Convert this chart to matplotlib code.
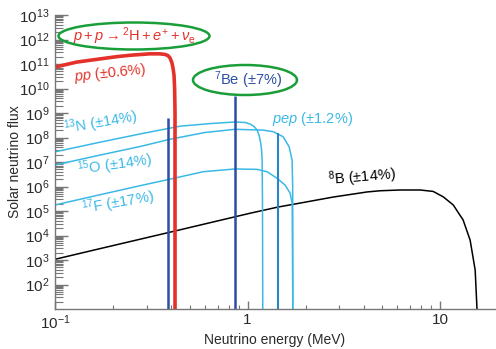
import numpy as np
import matplotlib
matplotlib.use('Agg')
import matplotlib.pyplot as plt
from matplotlib.patches import Ellipse
from matplotlib.ticker import LogLocator, NullFormatter, FixedLocator, FixedFormatter

plt.rcParams['font.family'] = ['Liberation Sans', 'DejaVu Sans']
plt.rcParams['mathtext.fontset'] = 'custom'
plt.rcParams['mathtext.rm'] = 'Liberation Sans'
plt.rcParams['mathtext.it'] = 'Liberation Sans:italic'
plt.rcParams['mathtext.default'] = 'regular'

# Spectra (energy in MeV, flux)
pp_e = [0.10, 0.13, 0.17, 0.21, 0.25, 0.31, 0.35, 0.373, 0.386, 0.396, 0.405, 0.410,
        0.415, 0.418, 0.42, 0.42]
pp_f = [7.5e10, 1.2e11, 1.6e11, 2.0e11, 2.3e11, 2.6e11, 2.6e11, 2.45e11, 2.2e11, 1.75e11,
        1.1e11, 6.9e10, 3.5e10, 1e10, 1e9, 1]

n13_e = [0.10, 0.171, 0.277, 0.446, 0.639, 0.86, 0.97, 1.03, 1.081, 1.121, 1.147, 1.168,
         1.182, 1.19, 1.195, 1.20]
n13_f = [2.6e7, 6.4e7, 1.4e8, 2.9e8, 3.7e8, 4.3e8, 4.1e8, 3.56e8, 2.8e8, 2.0e8, 1.26e8,
         6.5e7, 3.1e7, 1.2e7, 2.8e5, 1]

o15_e = [0.10, 0.171, 0.277, 0.396, 0.601, 0.86, 1.204, 1.357, 1.529, 1.643, 1.703, 1.715, 1.72]
o15_f = [7.55e6, 1.91e7, 4.3e7, 8.5e7, 1.6e8, 2.16e8, 2.0e8, 1.73e8, 1.08e8, 4.2e7, 1.2e7,
         1e6, 1]

f17_e = [0.10, 0.171, 0.277, 0.396, 0.587, 0.86, 1.121, 1.263, 1.423, 1.566, 1.663, 1.705, 1.72]
f17_f = [1.76e5, 4.6e5, 1.08e6, 2.0e6, 4.0e6, 5.2e6, 5.0e6, 4.0e6, 2.16e6, 1.15e6, 5.3e5,
         2.06e5, 1]

b8_e = [0.10, 0.171, 0.382, 1.03, 1.44, 1.87, 2.78, 4.18, 4.88, 6.19, 7.87, 9.2, 10.37,
        11.7, 13.16, 14.31, 15.2, 15.75]
b8_f = [1.07e3, 2.9e3, 1.28e4, 8.1e4, 1.45e5, 2.1e5, 3.7e5, 6.0e5, 6.7e5, 7.2e5, 7.2e5,
        6.3e5, 3.8e5, 1.76e5, 4.3e4, 6.5e3, 391, 1]

# Lines
be7_e = [0.384, 0.862]
be7_f = [6.3e8, 4.9e9]
pep_e = [1.442]
pep_f = [1.5e8]

red = '#e4322b'
cyan = '#3bb9e6'
dblue = '#2c4fa2'
pblue = '#2a85c8'
green = '#1a9e3a'
txt = '#2a2a2a'

fig = plt.figure(figsize=(4.96, 3.49), dpi=100)
ax = fig.add_axes([55 / 496, 40 / 349, 441 / 496, 294 / 349])

ax.plot(b8_e, b8_f, color='black', lw=1.1)
ax.plot(n13_e, n13_f, color=cyan, lw=1.1)
ax.plot(o15_e, o15_f, color=cyan, lw=1.1)
ax.plot(f17_e, f17_f, color=cyan, lw=1.1)
ax.vlines(be7_e, 1, be7_f, color=dblue, lw=1.8)
ax.vlines(pep_e, 1, pep_f, color=pblue, lw=1.5)
ax.plot(pp_e, pp_f, color=red, lw=2.6, solid_joinstyle='round')

ax.set_xscale('log')
ax.set_yscale('log')
ax.set_xlim(0.1, 19.5)
ax.set_ylim(10, 1e13)

for s in ['top', 'right']:
    ax.spines[s].set_visible(False)
for s in ['left', 'bottom']:
    ax.spines[s].set_color('#777777')
    ax.spines[s].set_linewidth(1.0)

ax.xaxis.set_major_locator(FixedLocator([0.1, 1, 10]))
ax.xaxis.set_major_formatter(FixedFormatter([r'$10^{-1}$', '1', '10']))
ax.xaxis.set_minor_locator(LogLocator(base=10, subs=np.arange(2, 10)))
ax.xaxis.set_minor_formatter(NullFormatter())

yt = [10.0 ** k for k in range(2, 14)]
ax.yaxis.set_major_locator(FixedLocator(yt))
ax.yaxis.set_major_formatter(FixedFormatter([r'$10^{%d}$' % k for k in range(2, 14)]))
ax.yaxis.set_minor_locator(LogLocator(base=10, subs=np.arange(2, 10), numticks=30))
ax.yaxis.set_minor_formatter(NullFormatter())

ax.tick_params(which='both', direction='in', colors='#777777', labelcolor=txt, labelsize=11)
ax.tick_params(axis='y', which='major', length=9.5, width=1.0, pad=4)
ax.tick_params(axis='y', which='minor', length=5.5, width=0.8)
ax.tick_params(axis='x', which='major', length=6, width=1.0, pad=3)
ax.tick_params(axis='x', which='minor', length=3, width=0.8)

fig.text(275 / 496, 1 - 340 / 349, 'Neutrino energy (MeV)', fontsize=10, color=txt,
         ha='center', va='center')
fig.text(15 / 496, 1 - 162 / 349, 'Solar neutrino flux', fontsize=10, color=txt,
         ha='center', va='center', rotation=90)

# Labels
tf = ax.transAxes
ax.text(0.179, 0.929, r'$\mathit{p} + \mathit{p} \rightarrow {}^{2}\mathrm{H} + \mathit{e}^{+} + \mathit{\nu}_{e}$',
        color=red, fontsize=10.5, ha='center', va='center', transform=tf)
ax.text(0.125, 0.803, r'$\mathit{pp}$ (±0.6%)', color=red, fontsize=10.5, ha='center',
        va='center', rotation=6, transform=tf)
ax.text(0.438, 0.779, r'$^{7}$Be (±7%)', color=dblue, fontsize=10.5, ha='center', va='center',
        transform=tf)
ax.text(0.583, 0.646, r'$\mathit{pep}$ (±1.2%)', color=cyan, fontsize=10.5, ha='center',
        va='center', transform=tf)
ax.text(0.104, 0.633, r'$^{13}$N (±14%)', color=cyan, fontsize=10.5, ha='center', va='center',
        rotation=10, transform=tf)
ax.text(0.136, 0.490, r'$^{15}$O (±14%)', color=cyan, fontsize=10.5, ha='center', va='center',
        rotation=8, transform=tf)
ax.text(0.143, 0.361, r'$^{17}$F (±17%)', color=cyan, fontsize=10.5, ha='center', va='center',
        rotation=10, transform=tf)
ax.text(0.696, 0.449, r'$^{8}$B (±14%)', color='black', fontsize=10.5, ha='center', va='center',
        rotation=5, transform=tf)

ff = fig.transFigure
fig.patches.append(Ellipse((134 / 496, 1 - 36 / 349), 151 / 496, 27 / 349, transform=ff,
                           fill=False, edgecolor=green, lw=1.8))
fig.patches.append(Ellipse((245 / 496, 1 - 80 / 349), 104 / 496, 30 / 349, transform=ff,
                           fill=False, edgecolor=green, lw=1.8))

fig.savefig('out.png', dpi=100)
